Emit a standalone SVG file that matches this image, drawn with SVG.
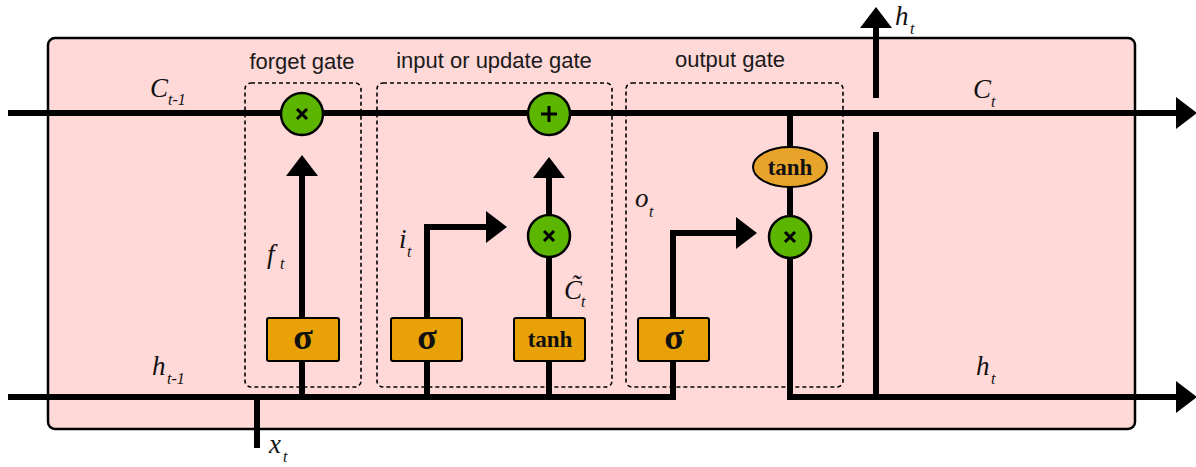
<svg xmlns="http://www.w3.org/2000/svg" width="1196" height="467" viewBox="0 0 1196 467">
<defs>
<marker id="ah" markerUnits="userSpaceOnUse" markerWidth="22" markerHeight="34" refX="0" refY="16" orient="auto" viewBox="0 0 22 32" overflow="visible">
<path d="M0,0 L21,16 L0,32 Z" fill="#000"/>
</marker>
</defs>
<style>
.cell{fill:#ffd8d8;stroke:#000;stroke-width:2.5}
.gate{fill:none;stroke:#000;stroke-width:1.6;stroke-dasharray:4 3}
.wire{fill:none;stroke:#000;stroke-width:6;stroke-linejoin:miter}
.arr{marker-end:url(#ah)}
.op{fill:#5cb600;stroke:#000;stroke-width:2.5}
.sym{stroke:#000;stroke-width:3;stroke-linecap:butt;fill:none}
.act{fill:#e8a208;stroke:#000;stroke-width:2}
.acte{fill:#e8a42a;stroke:#000;stroke-width:2}
.lbl{font-family:"Liberation Sans",Arial,sans-serif;font-size:22px;fill:#1a1a1a;text-anchor:middle}
.m{font-family:"Liberation Serif","Times New Roman",serif;font-style:italic;font-size:27px;fill:#111}
.s{font-size:16px}
.fn{font-family:"Liberation Serif","Times New Roman",serif;font-weight:bold;fill:#111;text-anchor:middle}
</style>

<rect id="cell" class="cell" x="48" y="38" width="1087" height="391" rx="7"/>

<g id="gate-labels">
<text class="lbl" x="302" y="69">forget gate</text>
<text class="lbl" x="494" y="68">input or update gate</text>
<text class="lbl" x="730" y="67">output gate</text>
</g>

<g id="forget-gate-box"><rect class="gate" x="245" y="83" width="116" height="304" rx="6"/></g>
<g id="input-gate-box"><rect class="gate" x="377" y="83" width="235" height="304" rx="6"/></g>
<g id="output-gate-box"><rect class="gate" x="626" y="83" width="217" height="304" rx="6"/></g>

<g id="connectors">
<path class="wire arr" d="M8,113 H1176"/>
<path class="wire arr" d="M8,397 H673 V233 H736"/>
<path class="wire arr" d="M302,397 V176"/>
<path class="wire arr" d="M427,397 V227 H486"/>
<path class="wire arr" d="M549,397 V178"/>
<path class="wire arr" d="M790,113 V397 H1176"/>
<path class="wire" d="M876,397 V132"/>
<path class="wire arr" d="M876,98 V28"/>
<path class="wire" d="M257,397 V448"/>
</g>

<g id="forget-mult">
<circle class="op" cx="302" cy="114" r="21"/>
<path class="sym" d="M297,109 L307,119 M307,109 L297,119"/>
</g>
<g id="cell-add">
<circle class="op" cx="549" cy="114" r="21"/>
<path class="sym" d="M549,106 V122 M541,114 H557"/>
</g>
<g id="input-mult">
<circle class="op" cx="549" cy="236" r="21"/>
<path class="sym" d="M544,231 L554,241 M554,231 L544,241"/>
</g>
<g id="output-mult">
<circle class="op" cx="790" cy="237" r="21"/>
<path class="sym" d="M785,232 L795,242 M795,232 L785,242"/>
</g>
<g id="output-tanh">
<ellipse class="acte" cx="790" cy="167" rx="37" ry="20"/>
<text class="fn" x="790" y="175" font-size="23">tanh</text>
</g>

<g id="forget-sigma">
<rect class="act" x="267" y="318" width="72" height="43" rx="2"/>
<text class="fn" x="303" y="349" font-size="36">σ</text>
</g>
<g id="input-sigma">
<rect class="act" x="391" y="318" width="71" height="43" rx="2"/>
<text class="fn" x="427" y="349" font-size="36">σ</text>
</g>
<g id="input-tanh">
<rect class="act" x="514" y="318" width="71" height="43" rx="2"/>
<text class="fn" x="550" y="347" font-size="23">tanh</text>
</g>
<g id="output-sigma">
<rect class="act" x="638" y="318" width="71" height="43" rx="2"/>
<text class="fn" x="674" y="349" font-size="36">σ</text>
</g>

<g id="math-labels">
<text class="m" x="150" y="97">C<tspan class="s" x="168" y="105">t-1</tspan></text>
<text class="m" x="973" y="98">C<tspan class="s" x="991" y="107">t</tspan></text>
<text class="m" x="895" y="25">h<tspan class="s" x="910" y="34">t</tspan></text>
<text class="m" x="152" y="375">h<tspan class="s" x="167" y="384">t-1</tspan></text>
<text class="m" x="976" y="375">h<tspan class="s" x="991" y="384">t</tspan></text>
<text class="m" x="269" y="453">x<tspan class="s" x="283" y="462">t</tspan></text>
<text class="m" x="267" y="263">f<tspan class="s" x="280" y="269">t</tspan></text>
<text class="m" x="399" y="248">i<tspan class="s" x="407" y="257">t</tspan></text>
<text class="m" x="635" y="207">o<tspan class="s" x="649" y="217">t</tspan></text>
<text class="m" x="564" y="299">C̃<tspan class="s" x="581" y="307">t</tspan></text>
</g>
</svg>
